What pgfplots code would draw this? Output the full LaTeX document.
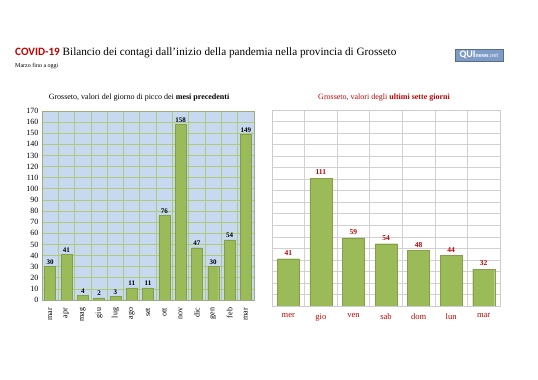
\documentclass[border=0pt]{standalone}
\usepackage{pgfplots}
\pgfplotsset{compat=1.18}
\usepackage{fontspec}
\setmainfont{Liberation Serif}
\newfontfamily\calfont{Carlito}
\definecolor{bargreen}{HTML}{9BBB59}
\definecolor{bgblue}{HTML}{C6D9F1}
\definecolor{gridgreen}{HTML}{AFCB7A}
\definecolor{darkred}{HTML}{C00000}
\definecolor{logoblue}{HTML}{7F9CC7}
\begin{document}
\begin{tikzpicture}
\path[fill=white] (0pt,0pt) rectangle (538pt,380pt);
\node[anchor=base west, inner sep=0pt] at (15pt,324pt) {\fontsize{11.2}{13}\selectfont{\calfont\bfseries\color{darkred}COVID-19} Bilancio dei contagi dall'inizio della pandemia nella provincia di Grosseto};
\node[anchor=base west, inner sep=0pt] at (15pt,312pt) {\fontsize{6}{7}\selectfont Marzo fino a oggi};
\node[fill=logoblue, draw=logoblue!70!black, inner sep=1pt, minimum width=48pt, minimum height=12pt, anchor=center] at (479pt,325pt) {\calfont\bfseries\color{white}\fontsize{10}{10}\selectfont QUI{\fontsize{6}{6}\selectfont news\color{white!70!logoblue}.net}};
\node[anchor=base, inner sep=0pt] at (139pt,280pt) {\fontsize{8}{9}\selectfont Grosseto, valori del giorno di picco dei \textbf{mesi precedenti}};
\node[anchor=base, inner sep=0pt] at (384pt,280pt) {\fontsize{8}{9}\selectfont\color{darkred} Grosseto, valori degli \textbf{ultimi sette giorni}};

\begin{axis}[at={(42pt,80pt)}, anchor=south west, scale only axis,
  width=212pt, height=189pt,
  /pgf/number format/assume math mode=true,
  xmin=-0.5, xmax=12.5, ymin=0, ymax=170,
  ytick={0,10,...,170},
  xtick={0,...,12},
  xticklabels={mar,apr,mag,giu,lug,ago,set,ott,nov,dic,gen,feb,mar},
  minor xtick={-0.5,0.5,...,12.5},
  xticklabel style={rotate=90, anchor=east, font=\fontsize{8}{9}\selectfont},
  yticklabel style={font=\fontsize{8}{9}\selectfont},
  major tick style={draw=none}, minor tick style={draw=none},
  ymajorgrids, xminorgrids,
  grid style={gridgreen, line width=0.7pt},
  minor grid style={gridgreen, line width=0.7pt},
  axis background/.style={fill=bgblue},
  axis line style={gridgreen!60!gray},
  ybar, bar width=11pt,
  nodes near coords,
  every node near coord/.append style={font=\bfseries\fontsize{7}{8}\selectfont, anchor=south, inner sep=2pt},
]
\addplot[fill=bargreen, draw=bargreen!85!black] coordinates {(0,30) (1,41) (2,4) (3,2) (4,3) (5,11) (6,11) (7,76) (8,158) (9,47) (10,30) (11,54) (12,149)};
\end{axis}

\begin{axis}[at={(272pt,74pt)}, anchor=south west, scale only axis,
  width=228pt, height=196pt,
  /pgf/number format/assume math mode=true,
  xmin=-0.5, xmax=6.5, ymin=0, ymax=170,
  ytick={0,10,...,170}, yticklabels={},
  xtick={0,...,6},
  xticklabels={mer,gio,ven,sab,dom,lun,mar},
  minor xtick={-0.5,0.5,...,6.5},
  xticklabel style={font=\fontsize{8.5}{9}\selectfont\color{darkred}},
  major tick style={draw=none}, minor tick style={draw=none},
  ymajorgrids, xminorgrids,
  grid style={black!18, line width=0.6pt},
  minor grid style={black!18, line width=0.6pt},
  axis line style={black!20},
  ybar, bar width=22pt,
  nodes near coords,
  every node near coord/.append style={font=\bfseries\fontsize{7.5}{8}\selectfont\color{darkred}, anchor=south, inner sep=3pt},
]
\addplot[fill=bargreen, draw=bargreen!85!black] coordinates {(0,41) (1,111) (2,59) (3,54) (4,48) (5,44) (6,32)};
\end{axis}
\end{tikzpicture}
\end{document}
